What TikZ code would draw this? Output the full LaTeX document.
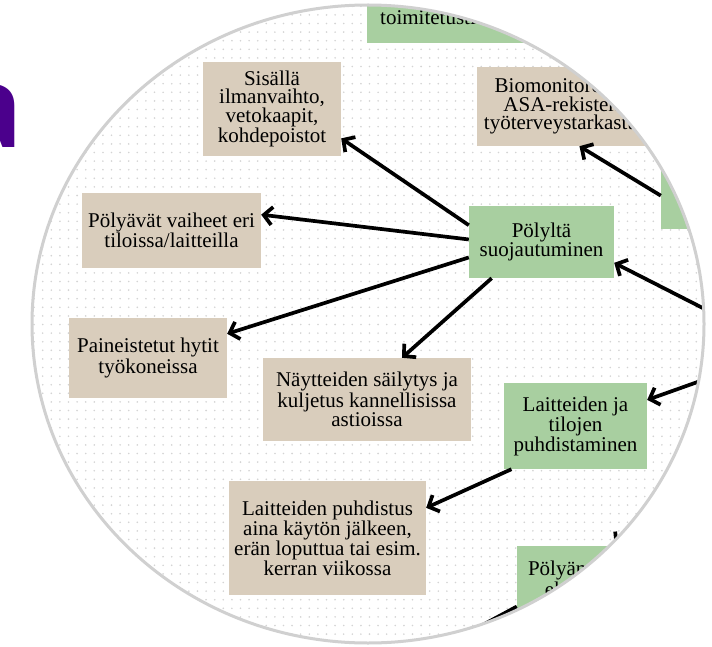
\documentclass[tikz,border=0pt]{standalone}
\usepackage{fontspec}
\setmainfont{Liberation Serif}
\newfontfamily\titlefont{Open Sans}
\usetikzlibrary{arrows.meta}
\definecolor{boxtan}{RGB}{217,205,188}
\definecolor{boxgreen}{RGB}{168,207,160}
\definecolor{titlepurple}{RGB}{75,0,140}
\definecolor{dotgray}{RGB}{212,212,212}
\definecolor{rimgray}{RGB}{208,208,208}

\begin{document}
\begin{tikzpicture}[x=1pt,y=-1pt,
    tanbox/.style={fill=boxtan, inner sep=0pt, align=center, font=\fontsize{21}{17.7}\selectfont},
    greenbox/.style={tanbox, fill=boxgreen},
    link/.style={line width=3.7pt, -{Straight Barb[length=8.5pt,width=18pt]}}]
    % Page
    \useasboundingbox (0,0) rectangle (712,647);
    \fill[white] (0,0) rectangle (712,647);

    % Title letter cut by the page edge
    \node[anchor=base east, inner sep=0pt, text=titlepurple, font=\titlefont\bfseries\fontsize{114}{114}\selectfont] (title) at (24,148) {a};

    % Magnified part of the map
    \begin{scope}
        \clip (368,324) ellipse (336 and 319);
        \foreach \i in {0,...,78}
            \foreach \j in {0,...,74}
                \fill[dotgray] (34.1+8.6*\i, 6.3+8.6*\j) circle (0.9);

        % Boxes
        \node[greenbox, minimum width=233pt, minimum height=93pt] (toim) at (483.5,-3.5) {};
        \node[anchor=base west, inner sep=0pt, font=\fontsize{21}{17.7}\selectfont] (toimtxt) at (380,25) {toimitetusti};
        \node[tanbox, minimum width=138pt, minimum height=94pt] (sis) at (272,109) {Sisällä\\ilmanvaihto,\\vetokaapit,\\kohdepoistot};
        \node[tanbox, minimum width=176pt, minimum height=79pt] (bio) at (565,106.5) {Biomonitorointi,\\ASA-rekisteri,\\työterveystarkastus};
        \node[greenbox, minimum width=99pt, minimum height=99pt] (rgt) at (710.5,179.5) {};
        \node[greenbox, minimum width=145pt, minimum height=72pt] (suoja) at (541.5,242) {Pölyltä\\suojautuminen};
        \node[tanbox, minimum width=179pt, minimum height=75pt] (polyv) at (171.5,230.5) {Pölyävät vaiheet eri\\tiloissa/laitteilla};
        \node[tanbox, minimum width=158pt, minimum height=80pt] (paine) at (148,358) {Paineistetut hytit\\työkoneissa};
        \node[tanbox, minimum width=208pt, minimum height=83pt] (nayt) at (367,399.5) {Näytteiden säilytys ja\\kuljetus kannellisissa\\astioissa};
        \node[greenbox, minimum width=143pt, minimum height=86pt] (puhd) at (575.5,426) {Laitteiden ja\\tilojen\\puhdistaminen};
        \node[tanbox, minimum width=197pt, minimum height=114pt] (lpuh) at (327.5,538) {Laitteiden puhdistus\\aina käytön jälkeen,\\erän loputtua tai esim.\\kerran viikossa};
        \node[greenbox, minimum width=120pt, minimum height=70pt] (ehk) at (577,581) {Pölyämisen\\ehkäisy};

        % Ends outside the lens
        \coordinate (in1) at (740,327);
        \coordinate (in2) at (720,374);
        \coordinate (in3) at (690,459);
        \coordinate (out1) at (440,648);

        % Arrows
        \draw[link] (suoja.167) -- (sis.-23);
        \draw[link] (suoja.178) -- (polyv.10);
        \draw[link] (suoja.192) -- (paine.17);
        \draw[link] (suoja.216) -- (nayt.50);
        \draw[link] (in1) -- (suoja.-16);
        \draw[link] (rgt.198) -- (bio.-70);
        \draw[link] (in2) -- (puhd.20);
        \draw[link] (puhd.214) -- (lpuh.17);
        \draw[link] (in3) -- (ehk.43);
        \draw[link] (ehk.203) -- (out1);
    \end{scope}

    % Lens rim
    \draw[rimgray, line width=3pt] (368,324) ellipse (336 and 319);
\end{tikzpicture}
\end{document}
